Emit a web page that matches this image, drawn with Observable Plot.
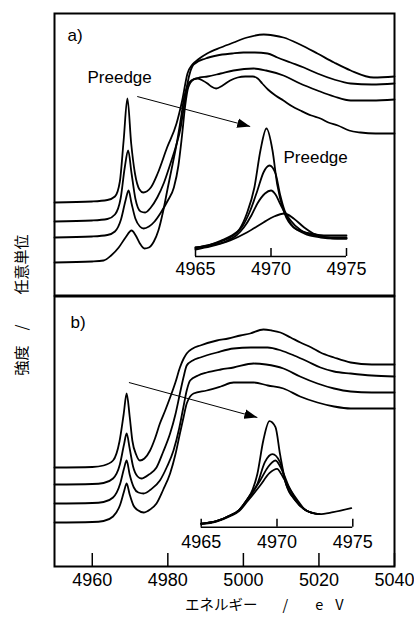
<!DOCTYPE html>
<html><head><meta charset="utf-8">
<script src="https://cdn.jsdelivr.net/npm/d3@7"></script>
<script src="https://cdn.jsdelivr.net/npm/@observablehq/plot@0.6"></script>
<style>
body{margin:0;background:#fff;}
#chart{position:relative;width:414px;height:617px;overflow:hidden;background:#fff;font-family:"Liberation Sans",Arial,sans-serif;}
#chart svg{position:absolute;left:0;top:0;overflow:visible;}
.ylab{position:absolute;left:20px;top:305px;transform:translate(-50%,-50%) rotate(-90deg);white-space:pre;font:15px "Noto Sans CJK JP",sans-serif;line-height:1;color:#000;}
.xlab{position:absolute;left:185px;top:597px;white-space:pre;font:14.5px "Noto Sans CJK JP",sans-serif;line-height:1;color:#000;}
</style></head>
<body><div id="chart"></div>
<script>
// ---------- data ----------
const xTicks = [4960, 4980, 5000, 5020, 5040];
const insetTicks = [4965, 4970, 4975];
const panelLabels = ["a)", "b)"];
const preedgeLabel = "Preedge";

// panel a main spectra [energy eV, intensity a.u.]
const a1 = [[4950,93],[4960,94],[4964,95.5],[4966,99],[4967.3,114],[4968.3,155],[4969.3,197],[4970.3,152],[4971.3,122],[4972.5,106],[4973.5,103],[4975.5,108],[4977.3,122],[4979.8,148],[4982.3,172],[4983.8,195],[4985.2,222],[4986.5,231],[4988,236],[4990.4,242],[4994,248],[4997.4,253],[5001,258],[5005.4,261],[5008,260],[5010.6,258],[5015,251],[5019.6,242],[5024,233],[5028.4,225],[5034.5,218],[5040,219]];
const a2 = [[4950,74],[4960,75],[4964,76.5],[4966,81],[4967.5,97],[4968.6,128],[4969.5,145],[4970.4,122],[4971.4,97],[4972.8,84],[4974,83],[4975.5,88],[4977.2,98],[4979,113],[4980.7,132],[4982.2,150],[4983.4,168],[4984.3,190],[4985.2,212],[4986.8,231],[4990,237],[4993,240],[4997,242],[5000,243],[5003,243],[5006.4,242],[5009,238],[5012.5,233],[5016,228],[5019.6,222],[5024,216],[5028.4,212],[5034,211],[5040,212]];
const a3 = [[4950,58],[4960,59],[4964,60.5],[4966,64],[4967.6,76],[4968.8,95],[4969.6,105],[4970.4,92],[4971.4,77],[4972.6,69],[4973.6,67],[4975,69],[4976.5,74],[4978,82],[4980,95],[4981.6,108],[4982.8,130],[4983.7,158],[4984.6,190],[4985.4,208],[4986.8,216],[4988.5,218],[4990.5,219],[4994,222],[4997.4,225],[5002.7,227],[5006,225],[5010.6,220],[5015,212],[5019.6,205],[5024,199],[5028.4,195],[5034,195],[5040,196]];
const a4 = [[4950,33],[4960,34],[4963,35],[4965,40],[4967,48],[4968.8,58],[4970.4,65],[4971.5,60],[4972.6,52],[4973.8,47],[4975,48],[4976.3,54],[4977.5,65],[4978.8,85],[4980,108],[4981.3,132],[4982.5,155],[4983.5,178],[4984.3,198],[4985.2,210],[4986.2,215],[4987.8,217],[4989.2,215],[4990.5,212],[4991.5,209],[4992.8,207],[4994.5,210],[4996.5,215],[4998.5,218],[5000.5,219],[5002.5,219],[5003.8,217],[5005,212],[5006.5,206],[5008.5,200],[5010.6,195],[5013,189],[5015.1,185],[5018,180],[5020.4,177],[5022.5,173],[5025,170],[5028,165],[5031,163],[5035,162],[5040,162]];

// panel b main spectra
const b1 = [[4950,99],[4960,99.5],[4963,101],[4965.5,106],[4967.2,125],[4968.3,152],[4969.1,173],[4969.9,150],[4970.6,126],[4971.6,112],[4972.6,106],[4973.8,108],[4975.3,116],[4976.6,128],[4977.9,143],[4979.3,156],[4980.6,169],[4982,184],[4983.2,199],[4984.2,208],[4985,213],[4986.6,218],[4988.6,221],[4993,226],[4996,228],[4999.2,231],[5001.8,233],[5005.3,237],[5007.5,236],[5009.8,234],[5012.5,229],[5015.1,224],[5018,219],[5020.4,214],[5024,209],[5028.4,204],[5034,202],[5040,202]];
const b2 = [[4950,82],[4960,82.5],[4963,83.5],[4965.5,88],[4967.3,102],[4968.4,122],[4969.1,133],[4969.9,118],[4970.8,100],[4972,90],[4973,88],[4975,92],[4977,99],[4978.8,115],[4980.6,133],[4982,152],[4983.2,173],[4984.2,190],[4985,201],[4986.6,206],[4988.6,209],[4993,214],[4997.4,218],[5002,219],[5006.4,219],[5010,216],[5013.4,211],[5017,205],[5020.4,199],[5024,195],[5028.4,193],[5034,191],[5040,190]];
const b3 = [[4950,63],[4960,63.5],[4963,64.5],[4965.5,69],[4967.4,83],[4968.4,98],[4969.1,106],[4969.9,92],[4971,79],[4972.2,74],[4973.6,73],[4975.5,77],[4977.9,86],[4979.8,100],[4981.5,116],[4983,138],[4984.1,159],[4985,176],[4985.9,186],[4988,191],[4990.3,194],[4994,197],[4997.4,199],[5002.7,203],[5006,202],[5010.6,198],[5015,190],[5019.6,183],[5024,178],[5028.4,175],[5034,174],[5040,174]];
const b4 = [[4950,44],[4960,44.5],[4963,45.5],[4965.5,50],[4967.4,62],[4968.4,75],[4969.1,83],[4969.9,72],[4970.9,61],[4972.2,56],[4973.6,54],[4975.3,57],[4977,63],[4978.8,77],[4980.6,93],[4982,112],[4983.2,133],[4984.2,150],[4985,163],[4986.8,173],[4990.3,176],[4994,180],[4997.4,184],[5002.7,184],[5006.5,181],[5010.6,178],[5015,170],[5019.6,164],[5024,160],[5028.4,158],[5034,158],[5040,158]];

// inset a: pre-edge region
const ia1 = [[4965,9],[4966,12],[4966.7,16],[4967.4,21],[4967.9,27],[4968.4,43],[4968.9,69],[4969.3,106],[4969.7,128],[4970.1,106],[4970.4,73],[4970.9,43],[4971.5,29],[4972.1,25],[4972.6,23],[4973.5,21],[4974.3,21],[4975,21]];
const ia2 = [[4965,9],[4966,12],[4966.7,15],[4967.5,21],[4968.1,30],[4968.6,45],[4969.1,66],[4969.5,84],[4969.9,91],[4970.3,83],[4970.6,62],[4970.9,46],[4971.3,36],[4972,26],[4972.9,21],[4974,19],[4975,19]];
const ia3 = [[4965,8],[4966,11],[4967,15],[4967.7,21],[4968.2,29],[4968.7,41],[4969.1,53],[4969.6,63],[4970,66],[4970.3,62],[4970.6,53],[4971,41],[4971.3,33],[4972.2,23],[4973.3,19],[4974.2,18],[4975,18]];
const ia4 = [[4965,7],[4966,10],[4967.3,16],[4968.4,24],[4969.5,34],[4970.2,40],[4970.9,43],[4971.5,38],[4972.2,29],[4972.8,23],[4973.7,19],[4974.4,18],[4975,18]];

// inset b: pre-edge region
const ib1 = [[4965,3.5],[4966,6],[4966.9,11.7],[4967.5,17],[4968,27],[4968.4,38],[4968.7,53],[4969.1,87],[4969.5,106],[4969.9,100],[4970.2,73],[4970.6,43],[4971.2,27],[4971.9,17],[4972.8,13],[4973.7,15],[4974.9,19]];
const ib2 = [[4965,3.5],[4966,6],[4966.9,11.7],[4967.5,17],[4968,27],[4968.7,43],[4969.2,65],[4969.7,73],[4970.2,65],[4970.6,43],[4971.2,27],[4971.9,17],[4972.8,13]];
const ib3 = [[4965,3.5],[4966,6],[4966.9,11.7],[4967.5,17],[4968,27],[4968.9,47],[4969.4,60],[4969.9,66.7],[4970.3,58],[4970.8,40],[4971.3,26],[4971.9,17],[4972.8,13]];
const ib4 = [[4965,3],[4966,5.5],[4966.9,11],[4967.5,16],[4968,25],[4968.9,42],[4969.5,54],[4970,58.3],[4970.4,50],[4970.9,37],[4971.4,26],[4971.9,17],[4972.8,13]];

// arrows (energy, intensity)
const arrowA = [{x1: 4971.9, y1: 199, x2: 5001.8, y2: 169}];
const arrowB = [{x1: 4969.7, y1: 184, x2: 5003.7, y2: 149}];

// ---------- build ----------
const toRows = (curves) => curves.flatMap((c, i) => c.map(([E, I]) => ({series: i, E, I})));
const rowsA = toRows([a1, a2, a3, a4]);
const rowsB = toRows([b1, b2, b3, b4]);
const rowsIA = toRows([ia1, ia2, ia3, ia4]);
const rowsIB = toRows([ib1, ib2, ib3, ib4]);

function triangleHead(color) {
  const m = d3.create("svg:marker")
    .attr("viewBox", "-13 -5 13 10")
    .attr("refX", 0).attr("refY", 0)
    .attr("markerWidth", 13).attr("markerHeight", 10)
    .attr("markerUnits", "userSpaceOnUse")
    .attr("orient", "auto")
    .attr("fill", color).attr("stroke", "none");
  m.append("path").attr("d", "M-13,-4.8L0,0L-13,4.8Z");
  return m.node();
}

const W = 414, H = 617;
const common = {width: W, height: H, style: {background: "none", overflow: "visible", fontFamily: "'Liberation Sans', Arial, sans-serif"}};
const lineStyle = {x: "E", y: "I", z: "series", curve: "monotone-x", stroke: "black", strokeWidth: 1.8};

// panel frames (pixels): a: top 13 .. 295 ; b: 296 .. 566
const plotA = Plot.plot({
  ...common,
  marginLeft: 54, marginRight: 20, marginTop: 13, marginBottom: 322,
  x: {domain: [4950, 5040], axis: null},
  y: {domain: [0, 282], axis: null},
  marks: [
    Plot.line(rowsA, lineStyle),
    Plot.link(arrowA, {x1: "x1", y1: "y1", x2: "x2", y2: "y2", stroke: "black", strokeWidth: 1, markerEnd: triangleHead}),
    Plot.text([panelLabels[0]], {frameAnchor: "top-left", dx: 13, dy: 27, lineAnchor: "bottom", textAnchor: "start", fontSize: 17}),
    Plot.text([preedgeLabel], {frameAnchor: "top-left", dx: 33, dy: 69, lineAnchor: "bottom", textAnchor: "start", fontSize: 17}),
    Plot.text([preedgeLabel], {frameAnchor: "top-left", dx: 229, dy: 149, lineAnchor: "bottom", textAnchor: "start", fontSize: 17}),
    Plot.frame({stroke: "black", strokeWidth: 2})
  ]
});

const bPlotHeight = H - 296 - 51;
const plotB = Plot.plot({
  ...common,
  marginLeft: 54, marginRight: 20, marginTop: 296, marginBottom: 51,
  x: {domain: [4950, 5040]},
  y: {domain: [0, 270], axis: null},
  marks: [
    Plot.line(rowsB, lineStyle),
    Plot.link(arrowB, {x1: "x1", y1: "y1", x2: "x2", y2: "y2", stroke: "black", strokeWidth: 1, markerEnd: triangleHead}),
    Plot.text([panelLabels[1]], {frameAnchor: "top-left", dx: 16, dy: 31, lineAnchor: "bottom", textAnchor: "start", fontSize: 17}),
    Plot.ruleX(xTicks, {stroke: "black", strokeWidth: 1.5, insetTop: bPlotHeight - 13}),
    Plot.axisX({ticks: xTicks, tickFormat: "d", tickSize: 0, tickPadding: 7, fontSize: 18, label: null}),
    Plot.frame({stroke: "black", strokeWidth: 2})
  ]
});

const iaHeight = 256 - 126;
const insetA = Plot.plot({
  ...common,
  marginLeft: 195, marginRight: 68, marginTop: 126, marginBottom: H - 256,
  x: {domain: [4965, 4975]},
  y: {domain: [0, 130], axis: null},
  marks: [
    Plot.line(rowsIA, lineStyle),
    Plot.ruleY([0], {stroke: "black", strokeWidth: 1.5}),
    Plot.ruleX(insetTicks, {stroke: "black", strokeWidth: 1.5, insetTop: iaHeight - 8}),
    Plot.axisX({ticks: insetTicks, tickFormat: "d", tickSize: 0, tickPadding: 5.5, fontSize: 18, label: null})
  ]
});

const ibHeight = 526.7 - 416.7;
const insetB = Plot.plot({
  ...common,
  marginLeft: 200.7, marginRight: 61.7, marginTop: 416.7, marginBottom: H - 526.7,
  x: {domain: [4965, 4975]},
  y: {domain: [0, 110], axis: null},
  marks: [
    Plot.line(rowsIB, lineStyle),
    Plot.ruleY([0], {stroke: "black", strokeWidth: 1.5}),
    Plot.ruleX(insetTicks, {stroke: "black", strokeWidth: 1.5, insetTop: ibHeight - 8}),
    Plot.axisX({ticks: insetTicks, tickFormat: "d", tickSize: 0, tickPadding: 8.5, fontSize: 18, label: null})
  ]
});

const chart = document.getElementById("chart");
[plotA, plotB, insetA, insetB].forEach(p => chart.appendChild(p));

const ylab = document.createElement("div");
ylab.className = "ylab";
ylab.textContent = "強度　/　　任意単位";
chart.appendChild(ylab);

const xlab = document.createElement("div");
xlab.className = "xlab";
xlab.innerHTML = '<span>エネルギー</span><span style="margin-left:25px">/</span><span style="margin-left:27px">e</span><span style="margin-left:12px">V</span>';
chart.appendChild(xlab);
</script>
</body></html>
